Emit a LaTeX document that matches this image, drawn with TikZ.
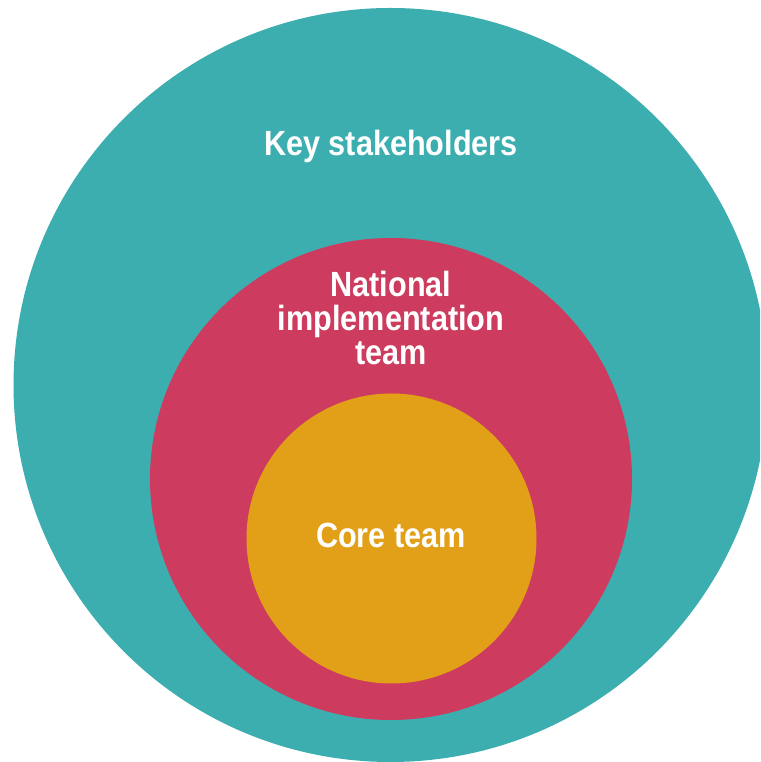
\documentclass[tikz,border=0pt]{standalone}
\usepackage{fontspec}
\newfontfamily\condbold[FakeStretch=0.875]{Liberation Sans Bold}
\definecolor{staketeal}{HTML}{3DAEB0}
\definecolor{nationalred}{HTML}{CD3C5F}
\definecolor{coreorange}{HTML}{E2A018}
\begin{document}
\begin{tikzpicture}[x=1pt,y=1pt,
  ringlabel/.style={text=white,font=\condbold\fontsize{35}{34}\selectfont,align=center,inner sep=0pt,anchor=base}]
  \useasboundingbox (0,0) rectangle (760,762);
  \clip (0,0) rectangle (760,762);
  % nested rings
  \fill[staketeal] (390.5,377) circle (377);
  \fill[nationalred] (391,283) circle (241);
  \fill[coreorange] (391.5,223.5) circle (145);
  % labels (base anchor of a multi-line node sits on its last line)
  \node[ringlabel] (stake) at (391,606) {Key stakeholders};
  \node[ringlabel] (national) at (391,397) {National\\implementation\\team};
  \node[ringlabel] (core) at (391,214) {Core team};
\end{tikzpicture}
\end{document}
